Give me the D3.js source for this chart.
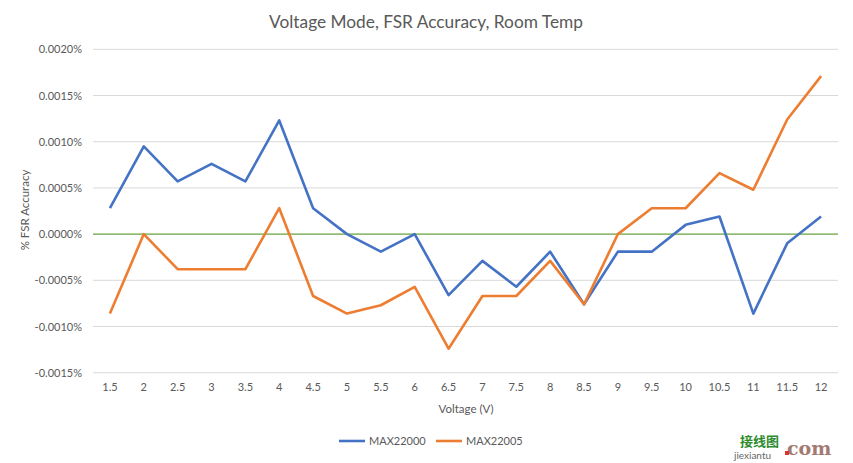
<!DOCTYPE html>
<html><head><meta charset="utf-8">
<script src="https://cdn.jsdelivr.net/npm/d3@7/dist/d3.min.js"></script>
<style>body{margin:0;background:#fff;} svg{display:block;font-family:Lato,"Open Sans",sans-serif;}</style>
</head><body>
<script>
const categories = ["1.5","2","2.5","3","3.5","4","4.5","5","5.5","6","6.5","7","7.5","8","8.5","9","9.5","10","10.5","11","11.5","12"];
const max22000 = [0.00028,0.00095,0.00057,0.00076,0.00057,0.00123,0.00028,0,-0.00019,0,-0.00066,-0.00029,-0.00057,-0.00019,-0.00076,-0.00019,-0.00019,0.00010,0.00019,-0.00086,-0.00010,0.00019];
const max22005 = [-0.00086,0,-0.00038,-0.00038,-0.00038,0.00028,-0.00067,-0.00086,-0.00077,-0.00057,-0.00124,-0.00067,-0.00067,-0.00029,-0.00076,0,0.00028,0.00028,0.00066,0.00048,0.00124,0.00171];
const zeroLine = categories.map(() => 0);
const yTicks = [-0.0015,-0.0010,-0.0005,0,0.0005,0.0010,0.0015,0.0020];
const seriesNames = ["MAX22000","MAX22005"];
const colors = ["#4472c4","#ed7d31"];

(function(){
const W = 853, H = 463;
const svg = d3.select("body").append("svg").attr("width", W).attr("height", H);
const pL = 93, pR = 838, pT = 49.3, pB = 372.7;
const x = d3.scaleBand().domain(categories).range([pL, pR]);
const y = d3.scaleLinear().domain([-0.0015, 0.0020]).range([pB, pT]);

svg.append("text").attr("x", 426).attr("y", 28).attr("text-anchor","middle")
  .attr("font-size", 17.3).attr("fill","#595959").text("Voltage Mode, FSR Accuracy, Room Temp");

svg.append("g").selectAll("line").data(yTicks).join("line")
  .attr("x1", pL).attr("x2", pR).attr("y1", d => y(d)).attr("y2", d => y(d))
  .attr("stroke","#d9d9d9").attr("stroke-width",1);

svg.append("g").selectAll("text").data(yTicks).join("text")
  .attr("x", 82).attr("y", d => y(d) + 4).attr("text-anchor","end")
  .attr("font-size", 11).attr("fill","#595959")
  .text(d => d3.format(".4f")(d).replace("−","-") + "%");

svg.append("g").selectAll("text").data(categories).join("text")
  .attr("x", d => x(d) + x.bandwidth()/2).attr("y", 391).attr("text-anchor","middle")
  .attr("font-size", 11).attr("fill","#595959").text(d => d);

svg.append("text").attr("x", 466).attr("y", 413).attr("text-anchor","middle")
  .attr("font-size", 11.5).attr("fill","#595959").text("Voltage (V)");
svg.append("text").attr("transform","translate(29,210) rotate(-90)").attr("text-anchor","middle")
  .attr("font-size", 11.5).attr("fill","#595959").text("% FSR Accuracy");

svg.append("line").attr("x1", pL).attr("x2", pR)
  .attr("y1", y(zeroLine[0])).attr("y2", y(zeroLine[0]))
  .attr("stroke","#70ad47").attr("stroke-width",1.3);

const line = d3.line().x((d,i) => x(categories[i]) + x.bandwidth()/2).y(d => y(d));
[max22000, max22005].forEach((s,k) => {
  svg.append("path").datum(s).attr("d", line).attr("fill","none")
    .attr("stroke", colors[k]).attr("stroke-width", 2.6).attr("stroke-linejoin","round");
});

const lg = [{x:339},{x:436}];
lg.forEach((l,k) => {
  svg.append("line").attr("x1", l.x).attr("x2", l.x+26).attr("y1", 441).attr("y2", 441)
    .attr("stroke", colors[k]).attr("stroke-width", 2.6);
  svg.append("text").attr("x", l.x+30).attr("y", 445).attr("font-size", 11).attr("fill","#595959").text(seriesNames[k]);
});

svg.append("text").attr("x", 740).attr("y", 446).attr("font-size", 13).attr("font-weight","bold")
  .attr("fill","#2e8b2e").attr("font-family","Noto Sans CJK SC").text("接线图");
svg.append("text").attr("x", 734).attr("y", 459).attr("font-size", 10).attr("fill","#666").text("jiexiantu");
svg.append("text").attr("x", 787).attr("y", 455).attr("font-size", 19).attr("font-weight","bold")
  .attr("fill","#a37a72").attr("font-family","DejaVu Serif").text("com");
svg.append("rect").attr("x", 785).attr("y", 451).attr("width", 4).attr("height", 4).attr("fill","#e03030");
})();
</script>
</body></html>
